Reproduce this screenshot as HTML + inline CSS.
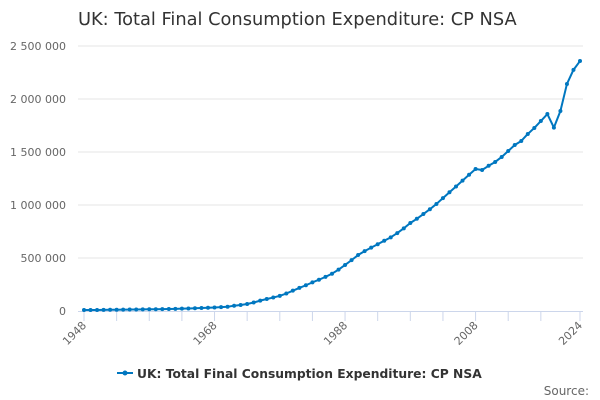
<!DOCTYPE html>
<html><head><meta charset="utf-8"><style>
body{margin:0;background:#fff;font-family:"DejaVu Sans","Liberation Sans",sans-serif}
svg{display:block}
</style></head><body>
<svg width="600" height="400" id="chart" xmlns="http://www.w3.org/2000/svg">
<text x="78" y="25" font-size="17.8" fill="#333">UK: Total Final Consumption Expenditure: CP NSA</text>
<g id="grid"></g>
<g id="ylabels"></g>
<g id="xaxis"></g>
<g id="series"></g>
<g>
<line x1="117" y1="373" x2="133" y2="373" stroke="#0077c0" stroke-width="2"/>
<circle cx="125" cy="373" r="2.5" fill="#0077c0"/>
<text x="137" y="378" font-size="12.3" font-weight="bold" fill="#333">UK: Total Final Consumption Expenditure: CP NSA</text>
</g>
<text x="589" y="395" font-size="12" fill="#666" text-anchor="end">Source:</text>
</svg>
<script>
const years = [];
for (let y = 1948; y <= 2024; y++) years.push(y);
const values = [9,9.5,10,10.8,11.5,12.2,12.8,13.6,14.5,15.3,16.1,16.9,17.8,
19,20.5,22,24,26,28,30.5,33,36,40,
50,57,66,80,98,113,127,143,165,192,218,243,270,295,322,352,390,434,480,528,
565,598,630,663,695,735,780,830,870,915,960,1010,1065,1120,1175,1230,1285,1340,1330,1370,
1406,1453,1509,1566,1604,1670,1727,1792,1858,1730,1887,2142,2275,2358];
const yTicks = [0,500000,1000000,1500000,2000000,2500000];
const yTickLabels = ["0","500 000","1 000 000","1 500 000","2 000 000","2 500 000"];
const xLabelYears = [1948,1968,1988,2008,2024];
const ns = "http://www.w3.org/2000/svg";
const X = yr => 84 + (yr - 1948) / (2024 - 1948) * 496;
const Y = v => 311 - v / 2500000 * 265;
function mk(tag, attrs, parent){const e=document.createElementNS(ns,tag);for(const k in attrs)e.setAttribute(k,attrs[k]);parent.appendChild(e);return e;}
const grid=document.getElementById('grid'), yl=document.getElementById('ylabels'), xa=document.getElementById('xaxis'), se=document.getElementById('series');
yTicks.forEach((t,i)=>{
  if(t>0){const l=mk('line',{x1:78,x2:583,y1:Y(t),y2:Y(t),stroke:'#e6e6e6','stroke-width':1},grid);
  
  }
  const tx=mk('text',{x:66,y:Y(t)+4,'font-size':11,fill:'#666','text-anchor':'end'},yl);
  tx.textContent=yTickLabels[i];
  
  
});
mk('line',{x1:78,x2:583,y1:311.5,y2:311.5,stroke:'#ccd6eb','stroke-width':1},xa);
const tickYears=[];for(let y=1948;y<=2018;y+=5)tickYears.push(y);tickYears.push(2024);
tickYears.forEach(y=>{const t=mk('line',{x1:X(y),x2:X(y),y1:311.5,y2:321,stroke:'#ccd6eb','stroke-width':1},xa);
  
  });
xLabelYears.forEach(y=>{const x=X(y);
  const t=mk('text',{x:x+3,y:326,'font-size':11,fill:'#666','text-anchor':'end',transform:`rotate(-45 ${x+3} 326)`},xa);
  t.textContent=y;
  
  });
const pts=years.map((y,i)=>X(y)+','+Y(values[i]*1000)).join(' ');
const pl=mk('polyline',{points:pts,fill:'none',stroke:'#0077c0','stroke-width':2,'stroke-linejoin':'round'},se);


years.forEach((y,i)=>{const c=mk('circle',{cx:X(y),cy:Y(values[i]*1000),r:2,fill:'#0077c0'},se);
  
  });
</script>
</body></html>
